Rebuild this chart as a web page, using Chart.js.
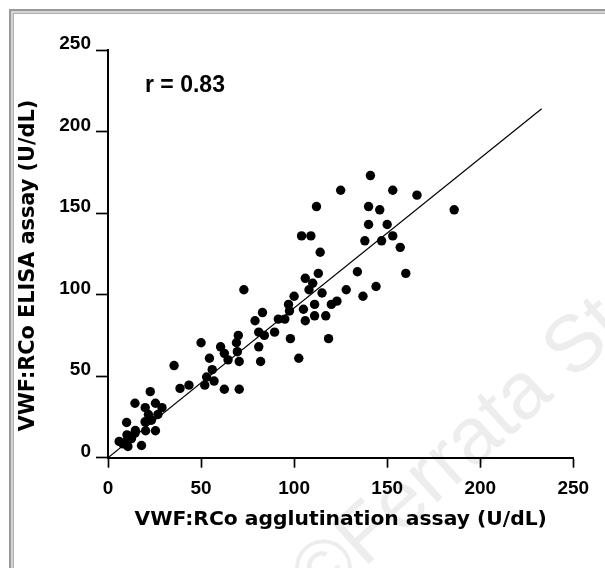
<!DOCTYPE html>
<html>
<head>
<meta charset="utf-8">
<script src="https://cdn.jsdelivr.net/npm/chart.js@4.4.1/dist/chart.umd.min.js"></script>
<style>
  html, body { margin: 0; padding: 0; background: #fff; overflow: hidden; }
  canvas { display: block; }
</style>
</head>
<body>
<canvas id="chartRCo" width="605" height="568"></canvas>
<script>
// valores (U/dL)
const aglutinacion = [141, 125, 153, 166, 186, 112, 140, 146, 140, 150,
  104, 109, 153, 138, 147, 157, 114, 134, 160, 113,
  106, 110, 108, 115, 128, 144, 137, 100, 97, 111,
  123, 120, 105, 97.5, 95, 91.5, 106, 111, 117, 98,
  118.5, 102.5, 89.5, 83, 79, 81, 84, 81, 82, 73,
  70, 69, 69.5, 70.5, 64.5, 62.5, 60.5, 50, 54.5, 56,
  53, 52, 57, 62.5, 70.5, 35.5, 38.7, 43.5, 22.7, 14.5,
  20, 25.5, 29, 21.7, 26.8, 23.3, 19.9, 10, 20.2, 25.5,
  14.7, 10.2, 12.6, 6, 10, 10.7, 18, 8, 14.5];
const elisa = [173, 164, 164, 161, 152, 154, 154, 152, 143, 143,
  136, 136, 136, 133, 133, 129, 126, 114, 113, 113,
  110, 107, 103, 101, 103, 105, 99, 99, 94, 94,
  96, 94, 91, 90, 85, 85, 84, 87, 87, 73,
  73, 61, 77, 89, 84, 77, 75, 68, 59, 103,
  75, 70.5, 65, 59, 60, 64, 68, 70.5, 61, 54,
  49.5, 44.5, 47, 42, 42, 56.5, 42.5, 44.5, 40.5, 33.4,
  30.7, 33.4, 30.7, 26.5, 26.5, 23, 22, 21.6, 16.5, 16.5,
  16.7, 14, 11.7, 10, 10, 6.9, 7.5, 8.5, 15];

// recta de regresion
const rectaX = [0, 233];
const rectaY = [0, 214];

const ticksEje = [0, 50, 100, 150, 200, 250];
const textoR = "r = 0.83";
const tituloX = "VWF:RCo agglutination assay (U/dL)";
const tituloY = "VWF:RCo ELISA assay (U/dL)";
const marcaAgua = "\u00A9Ferrata Storti";

const puntos = aglutinacion.map((x, i) => ({ x: x, y: elisa[i] }));
const recta = rectaX.map((x, i) => ({ x: x, y: rectaY[i] }));

const fuenteTicks = { family: '"Liberation Sans", Arial, sans-serif', size: 19, weight: 'bold' };

// fondo, marco gris, marca de agua y textos sueltos
const decoracion = {
  id: 'decoracion',
  beforeDraw(chart) {
    const ctx = chart.ctx;
    ctx.save();
    ctx.fillStyle = '#fff';
    ctx.fillRect(0, 0, chart.width, chart.height);

    ctx.save();
    ctx.translate(320, 608);
    ctx.rotate(-42 * Math.PI / 180);
    ctx.font = '80px "Liberation Sans", Arial, sans-serif';
    ctx.fillStyle = '#ededed';
    ctx.textBaseline = 'alphabetic';
    ctx.fillText(marcaAgua, 0, 0);
    ctx.restore();

    ctx.fillStyle = '#9a9a9a';
    ctx.fillRect(9, 9, chart.width - 9, 2);
    ctx.fillRect(9, 9, 2, chart.height - 9);
    ctx.fillStyle = '#d4d4d4';
    ctx.fillRect(11, 11, chart.width - 11, 2);
    ctx.fillRect(11, 11, 2, chart.height - 11);
    ctx.fillStyle = '#b0b0b0';
    ctx.fillRect(13, 13, chart.width - 13, 1);
    ctx.fillRect(13, 13, 1, chart.height - 13);
    ctx.restore();
  },
  afterDraw(chart) {
    const ctx = chart.ctx;
    ctx.save();
    ctx.fillStyle = '#000';
    ctx.font = 'bold 23px "Liberation Sans", Arial, sans-serif';
    ctx.textAlign = 'left';
    ctx.textBaseline = 'alphabetic';
    ctx.fillText(textoR, 145, 92);

    ctx.translate(28.5, 265.5);
    ctx.rotate(-Math.PI / 2);
    ctx.font = 'bold 20.8px "DejaVu Sans", sans-serif';
    ctx.textAlign = 'center';
    ctx.textBaseline = 'middle';
    ctx.fillText(tituloY, 0, 0);
    ctx.restore();
  }
};

const ctx = document.getElementById('chartRCo').getContext('2d');
new Chart(ctx, {
  type: 'scatter',
  data: {
    datasets: [
      {
        data: puntos,
        backgroundColor: '#000',
        borderWidth: 0,
        pointRadius: 4.7,
        pointHoverRadius: 4.7
      },
      {
        type: 'line',
        data: recta,
        borderColor: '#000',
        borderWidth: 1.2,
        pointRadius: 0,
        fill: false
      }
    ]
  },
  options: {
    responsive: false,
    animation: false,
    layout: { padding: { left: 0, right: 31.7, top: 50, bottom: 0 } },
    plugins: { legend: { display: false }, tooltip: { enabled: false } },
    scales: {
      x: {
        type: 'linear',
        min: 0,
        max: 250,
        afterFit: s => { s.height = 110.3; },
        afterBuildTicks: s => { s.ticks = ticksEje.map(v => ({ value: v })); },
        border: { display: true, color: '#000', width: 2 },
        grid: { drawOnChartArea: false, drawTicks: true, tickLength: 10, tickWidth: 1.7, tickColor: '#000' },
        ticks: { color: '#000', font: fuenteTicks, padding: 10, maxRotation: 0 },
        title: {
          display: true,
          text: tituloX,
          color: '#000',
          font: { family: '"DejaVu Sans", sans-serif', size: 20.3, weight: 'bold' },
          padding: { top: 0, bottom: 36 }
        }
      },
      y: {
        type: 'linear',
        min: 0,
        max: 250,
        afterFit: s => { s.width = 108; },
        afterBuildTicks: s => { s.ticks = ticksEje.map(v => ({ value: v })); },
        border: { display: true, color: '#000', width: 2 },
        grid: { drawOnChartArea: false, drawTicks: true, tickLength: 12, tickWidth: 1.7, tickColor: '#000' },
        ticks: { color: '#000', font: fuenteTicks, padding: 5, labelOffset: -6 }
      }
    }
  },
  plugins: [decoracion]
});
</script>
</body>
</html>
